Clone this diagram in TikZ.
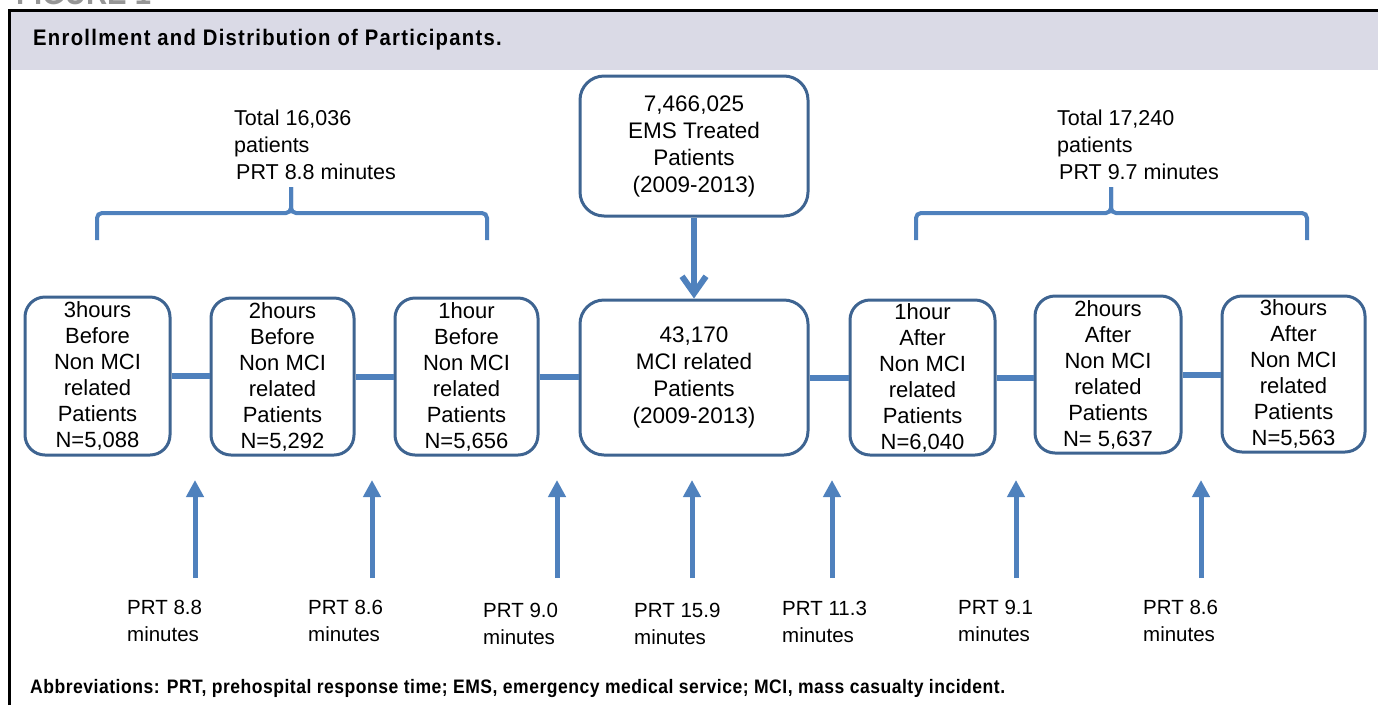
\documentclass[tikz,border=0pt]{standalone}
\usepackage{fontspec}
\setmainfont{Liberation Sans}
\newfontfamily\condb{Liberation Sans}[FakeStretch=0.86]
\newfontfamily\titlefont{Liberation Sans}[FakeStretch=0.9,LetterSpace=5.7]
\newfontfamily\notefont{Liberation Sans}[FakeStretch=0.9,LetterSpace=2.6]
\usetikzlibrary{arrows.meta}
\definecolor{boxblue}{RGB}{62,100,145}
\definecolor{lineblue}{RGB}{79,129,189}
\definecolor{headbg}{RGB}{218,218,230}
\definecolor{figgray}{RGB}{150,150,150}
\tikzset{
  box/.style={draw=boxblue, line width=3pt, rounded corners=20pt, fill=white,
    inner sep=0pt, align=center, font=\fontsize{22}{26}\selectfont},
  bigbox/.style={box, rounded corners=24pt, font=\fontsize{22.5}{27}\selectfont},
  link/.style={draw=lineblue, line width=6pt},
  downarrow/.style={draw=lineblue, line width=6pt, -{Straight Barb[length=17pt,width=24pt]}},
  uparrow/.style={draw=lineblue, fill=lineblue, line width=5pt, -{Triangle[length=17pt,width=17pt]}},
  brace/.style={draw=lineblue, line width=4pt, rounded corners=5pt},
  lab/.style={inner sep=0pt, align=left, font=\fontsize{20.5}{27}\selectfont},
  toplab/.style={lab, font=\fontsize{21.5}{27}\selectfont},
}
\begin{document}
\begin{tikzpicture}[x=1pt,y=-1pt]
\useasboundingbox (0,0) rectangle (1378,705);
% clipped figure label at the very top
\begin{scope}
\clip (0,0) rectangle (1378,7);
\node[anchor=base west, inner sep=0pt, text=figgray, font=\condb\bfseries\fontsize{34}{34}\selectfont] (figlabel) at (16,4) {FIGURE 1};
\end{scope}
% header band and frame
\fill[headbg] (9,10) rectangle (1378,70);
\draw[line width=3pt] (9,705) -- (9,10) -- (1378,10);
\node[anchor=west, inner sep=0pt, font=\titlefont\bfseries\fontsize{22.5}{22.5}\selectfont] (title) at (33,40) {Enrollment and Distribution of Participants.};
% boxes
\node[bigbox, minimum width=228pt, minimum height=140pt] (ems) at (694,146) {7,466,025\\EMS Treated\\Patients\\(2009-2013)};
\node[bigbox, minimum width=228pt, minimum height=155pt] (mci) at (694,377.5) {43,170\\MCI related\\Patients\\(2009-2013)};
\node[box, minimum width=145pt, minimum height=158pt] (b3) at (97.5,376) {3hours\\Before\\Non MCI\\related\\Patients\\N=5,088};
\node[box, minimum width=143pt, minimum height=157pt] (b2) at (282.5,376.5) {2hours\\Before\\Non MCI\\related\\Patients\\N=5,292};
\node[box, minimum width=143pt, minimum height=157pt] (b1) at (466.5,376.5) {1hour\\Before\\Non MCI\\related\\Patients\\N=5,656};
\node[box, minimum width=145pt, minimum height=155pt] (a1) at (922.5,377.5) {1hour\\After\\Non MCI\\related\\Patients\\N=6,040};
\node[box, minimum width=146pt, minimum height=157pt] (a2) at (1108,374.5) {2hours\\After\\Non MCI\\related\\Patients\\N= 5,637};
\node[box, minimum width=143pt, minimum height=156pt] (a3) at (1293.5,374) {3hours\\After\\Non MCI\\related\\Patients\\N=5,563};
% links
\draw[link] (b3.east) -- (b3.east -| b2.west);
\draw[link] (b2.east) -- (b2.east -| b1.west);
\draw[link] (b1.east) -- (b1.east -| mci.west);
\draw[link] (mci.east) -- (mci.east -| a1.west);
\draw[link] (a1.east) -- (a1.east -| a2.west);
\draw[link] (a2.east) -- (a2.east -| a3.west);
\draw[downarrow] (ems.south) -- (mci.north);
% braces and their labels
\draw[brace] (97,240) -- (97,213) -- (291,213) -- (291,187);
\draw[brace] (487,240) -- (487,213) -- (291,213) -- (291,187);
\draw[brace] (916,240) -- (916,213) -- (1111,213) -- (1111,187);
\draw[brace] (1307,240) -- (1307,213) -- (1111,213) -- (1111,187);
\node[toplab, anchor=west] (totL) at (234,145) {Total 16,036\\patients\\\hspace{2pt}PRT 8.8 minutes};
\node[toplab, anchor=west] (totR) at (1057,145) {Total 17,240\\patients\\\hspace{2pt}PRT 9.7 minutes};
% upward arrows
\foreach \i/\x in {1/195,2/372,3/557,4/692,5/832,6/1016,7/1201}{
  \coordinate (u\i b) at (\x,578);
  \coordinate (u\i t) at (\x,480);
  \draw[uparrow] (u\i b) -- (u\i t);
}
% PRT labels
\node[lab, anchor=west] (p1) at (127,621) {PRT 8.8\\minutes};
\node[lab, anchor=west] (p2) at (308,621) {PRT 8.6\\minutes};
\node[lab, anchor=west] (p3) at (483,624) {PRT 9.0\\minutes};
\node[lab, anchor=west] (p4) at (634,624) {PRT 15.9\\minutes};
\node[lab, anchor=west] (p5) at (782,622) {PRT 11.3\\minutes};
\node[lab, anchor=west] (p6) at (958,621) {PRT 9.1\\minutes};
\node[lab, anchor=west] (p7) at (1143,621) {PRT 8.6\\minutes};
% footnote
\node[anchor=west, inner sep=0pt, font=\notefont\bfseries\fontsize{19.5}{19.5}\selectfont] (abbr) at (30,688) {Abbreviations: PRT, prehospital response time; EMS, emergency medical service; MCI, mass casualty incident.};
\end{tikzpicture}
\end{document}
